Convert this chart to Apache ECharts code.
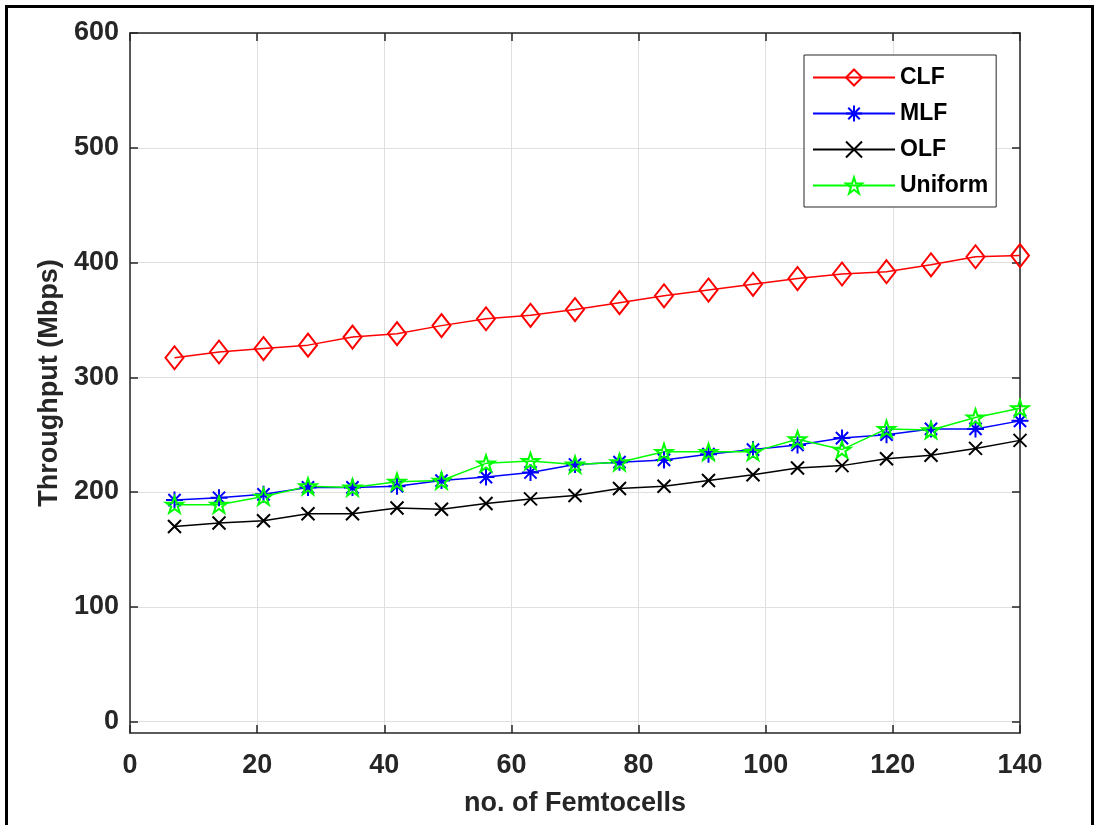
<!DOCTYPE html>
<html>
<head>
<meta charset="utf-8">
<script src="https://cdn.jsdelivr.net/npm/echarts@6/dist/echarts.min.js"></script>
<style>
  html, body { margin: 0; padding: 0; background: #fff; }
  #chart { width: 1099px; height: 825px; }
</style>
</head>
<body>
<div id="chart"></div>
<script>
// Number of femtocells (x positions of every sample)
const femtocells = [7, 14, 21, 28, 35, 42, 49, 56, 63, 70, 77, 84, 91, 98, 105, 112, 119, 126, 133, 140];

// Throughput (Mbps) per scheme
const clf = [317, 322, 325, 328, 335, 338, 345, 351, 354, 359, 365, 371, 376, 381, 386, 390, 392, 398, 405, 406];
const mlf = [193, 195, 198, 204, 204, 205, 210, 213, 217, 224, 226, 228, 233, 237, 241, 247, 250, 255, 255, 262];
const olf = [170, 173, 175, 181, 181, 186, 185, 190, 194, 197, 203, 205, 210, 215, 221, 223, 229, 232, 238, 245];
const uniform = [189, 189, 196, 205, 204, 209, 210, 225, 227, 224, 226, 235, 235, 235, 246, 237, 255, 254, 265, 273];

const seriesNames = ['CLF', 'MLF', 'OLF', 'Uniform'];

// Axis tick values
const xTicks = [0, 20, 40, 60, 80, 100, 120, 140];
const yTicks = [0, 100, 200, 300, 400, 500, 600];

const FONT = '"Liberation Sans", Arial, Helvetica, sans-serif';
const AXIS_COLOR = '#262626';
const GRID_COLOR = '#dfdfdf';

// Marker outlines
const ASTERISK = 'path://M0,-1L0,1M-1,0L1,0M-0.72,-0.72L0.72,0.72M-0.72,0.72L0.72,-0.72';
const CROSS = 'path://M-1,-1L1,1M-1,1L1,-1';
const STAR = 'path://M0,-1L0.225,-0.309L0.951,-0.309L0.363,0.118L0.588,0.809L0,0.382L-0.588,0.809L-0.363,0.118L-0.951,-0.309L-0.225,-0.309Z';

function pairs(values) {
  return femtocells.map((x, i) => [x, values[i]]);
}

function lineSeries(name, values, color, symbol, size) {
  return {
    name: name,
    type: 'line',
    data: pairs(values),
    symbol: symbol,
    symbolSize: size,
    symbolKeepAspect: true,
    showAllSymbol: true,
    lineStyle: { color: color, width: 1.5 },
    itemStyle: { color: 'rgba(0,0,0,0)', borderColor: color, borderWidth: 2 },
    emphasis: { disabled: true },
    animation: false,
    z: 3
  };
}

const chart = echarts.init(document.getElementById('chart'), null, { renderer: 'canvas' });

const baseX = {
  type: 'value',
  min: 0,
  max: 140,
  interval: 20
};
const baseY = {
  type: 'value',
  min: -10,
  max: 600
};

chart.setOption({
  backgroundColor: '#ffffff',
  animation: false,
  graphic: [{
    type: 'rect',
    shape: { x: 6.5, y: 6.5, width: 1086, height: 830 },
    style: { fill: 'none', stroke: '#000', lineWidth: 3 },
    silent: true,
    z: -10
  }],
  grid: {
    left: 130,
    top: 33,
    right: 79,
    bottom: 92,
    containLabel: false
  },
  legend: {
    orient: 'vertical',
    left: 804,
    top: 55,
    padding: [11, 8, 10, 8],
    itemWidth: 82,
    itemHeight: 20,
    itemGap: 13,
    backgroundColor: '#ffffff',
    borderColor: AXIS_COLOR,
    borderWidth: 1,
    borderRadius: 0,
    textStyle: { fontFamily: FONT, fontSize: 23, fontWeight: 'bold', color: '#000' },
    data: seriesNames
  },
  xAxis: [
    Object.assign({}, baseX, {
      position: 'bottom',
      name: 'no. of Femtocells',
      nameLocation: 'middle',
      nameGap: 57,
      nameTextStyle: { fontFamily: FONT, fontSize: 27, fontWeight: 'bold', color: AXIS_COLOR },
      axisLine: { show: true, onZero: false, lineStyle: { color: AXIS_COLOR, width: 1.5 } },
      axisTick: { show: true, inside: true, length: 8, lineStyle: { color: AXIS_COLOR, width: 1.5 } },
      axisLabel: {
        show: true, margin: 19, fontFamily: FONT, fontSize: 27, fontWeight: 'bold', color: AXIS_COLOR,
        customValues: xTicks
      },
      splitLine: { show: true, lineStyle: { color: GRID_COLOR, width: 1 } }
    }),
    Object.assign({}, baseX, {
      position: 'top',
      axisLine: { show: true, onZero: false, lineStyle: { color: AXIS_COLOR, width: 1.5 } },
      axisTick: { show: true, inside: true, length: 8, lineStyle: { color: AXIS_COLOR, width: 1.5 } },
      axisLabel: { show: false },
      splitLine: { show: false }
    })
  ],
  yAxis: [
    Object.assign({}, baseY, {
      position: 'left',
      name: 'Throughput (Mbps)',
      nameLocation: 'middle',
      nameGap: 66,
      nameRotate: 90,
      nameTextStyle: { fontFamily: FONT, fontSize: 27, fontWeight: 'bold', color: AXIS_COLOR },
      axisLine: { show: true, onZero: false, lineStyle: { color: AXIS_COLOR, width: 1.5 } },
      axisTick: { show: true, inside: true, length: 8, customValues: yTicks, lineStyle: { color: AXIS_COLOR, width: 1.5 } },
      axisLabel: {
        show: true, margin: 11, fontFamily: FONT, fontSize: 27, fontWeight: 'bold', color: AXIS_COLOR,
        customValues: yTicks
      },
      splitLine: { show: true, lineStyle: { color: GRID_COLOR, width: 1 } }
    }),
    Object.assign({}, baseY, {
      position: 'right',
      axisLine: { show: true, onZero: false, lineStyle: { color: AXIS_COLOR, width: 1.5 } },
      axisTick: { show: true, inside: true, length: 8, customValues: yTicks, lineStyle: { color: AXIS_COLOR, width: 1.5 } },
      axisLabel: { show: false },
      splitLine: { show: false }
    })
  ],
  series: [
    lineSeries('CLF', clf, '#ff0000', 'diamond', [18, 23]),
    lineSeries('MLF', mlf, '#0000ff', ASTERISK, 17),
    lineSeries('OLF', olf, '#000000', CROSS, 13),
    lineSeries('Uniform', uniform, '#00ff00', STAR, 17)
  ]
});
</script>
</body>
</html>
